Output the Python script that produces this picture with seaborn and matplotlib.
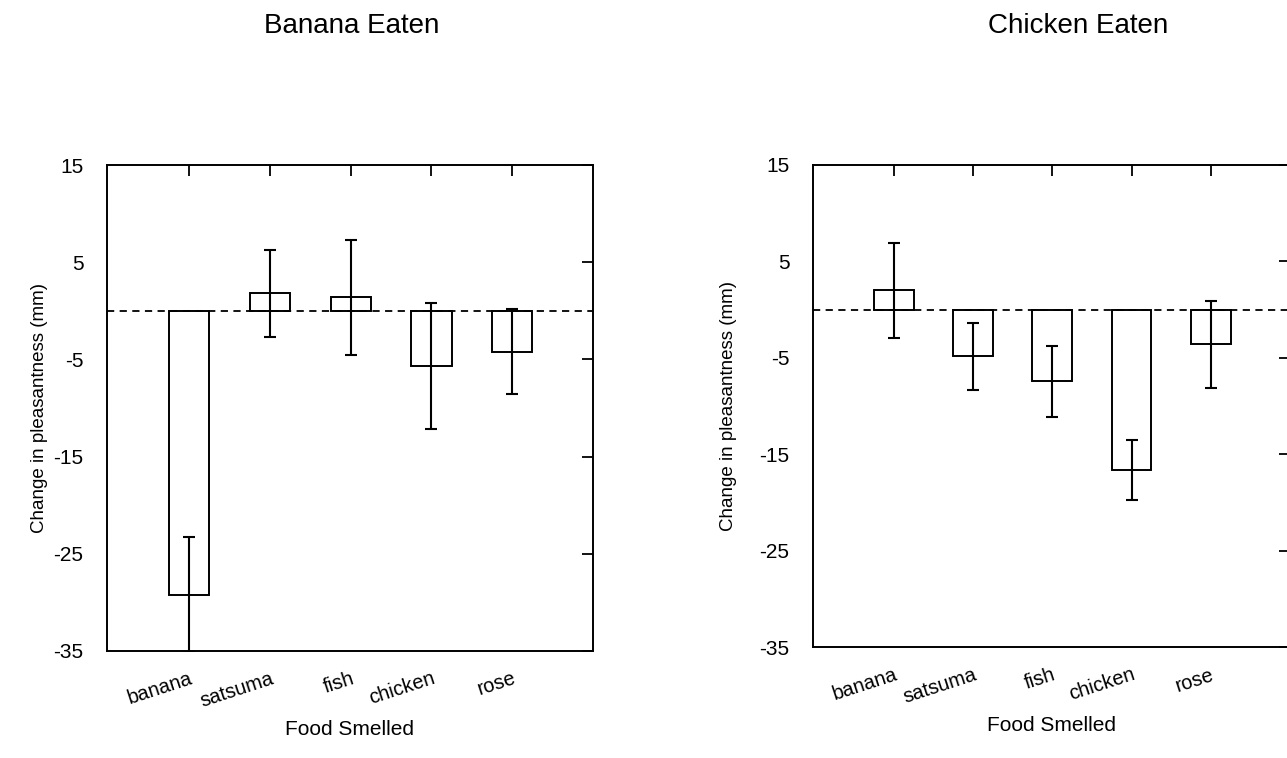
import numpy as np
import matplotlib
matplotlib.use("Agg")
import matplotlib.pyplot as plt
import seaborn as sns

# ==============
# DADOS
# ==============

foods = ["banana", "satsuma", "fish", "chicken", "rose"]

banana_eaten_mean = [-29.2, 1.8, 1.4, -5.7, -4.2]
banana_eaten_err = [5.9, 4.5, 5.9, 6.5, 4.4]

chicken_eaten_mean = [2.0, -4.85, -7.45, -16.6, -3.6]
chicken_eaten_err = [4.9, 3.45, 3.7, 3.1, 4.5]

titles = ["Banana Eaten", "Chicken Eaten"]
yticks = [15, 5, -5, -15, -25, -35]

# ==============
# FIGURA
# ==============

sns.set_theme(style="white")
plt.rcParams["font.family"] = ["Liberation Sans", "DejaVu Sans"]
plt.rcParams["text.color"] = "black"
plt.rcParams["axes.labelcolor"] = "black"
plt.rcParams["xtick.color"] = "black"
plt.rcParams["ytick.color"] = "black"
plt.rcParams["xtick.direction"] = "in"
plt.rcParams["ytick.direction"] = "in"

fig = plt.figure(figsize=(12.87, 7.58), dpi=100)
ax1 = fig.add_axes([0.0831, 0.1412, 0.3776, 0.641])
ax2 = fig.add_axes([0.6317, 0.1464, 0.3706, 0.636])

# (eixo, médias, erros, posição do rótulo y)
paineis = [
    (ax1, banana_eaten_mean, banana_eaten_err, -0.121),
    (ax2, chicken_eaten_mean, chicken_eaten_err, -0.159),
]

for ax, medias, erros, ylab_x in paineis:
    sns.barplot(x=foods, y=medias, fill=False, color="black", width=0.5,
                errorbar=None, linewidth=1.4, ax=ax)
    for patch in ax.patches:
        patch.set_edgecolor("black")
    ax.errorbar(x=np.arange(len(foods)), y=medias, yerr=erros, fmt="none",
                ecolor="black", elinewidth=1.5, capsize=4, capthick=1.5)
    ax.axhline(0, color="black", linestyle=(0, (4, 3)), linewidth=1.3)

    ax.set_xlim(-1.02, 5.0)
    ax.set_ylim(-35, 15)
    ax.set_yticks(yticks)
    ax.set_yticklabels([str(t) for t in yticks], fontsize=15)
    ax.set_xticks(np.arange(len(foods)))
    ax.set_xticklabels(foods, rotation=18, ha="right", rotation_mode="anchor",
                       fontsize=14.5)
    ax.tick_params(axis="both", which="both", length=8, width=1.3,
                   top=True, right=True)
    ax.tick_params(axis="x", pad=13)
    ax.tick_params(axis="y", pad=17)
    for spine in ax.spines.values():
        spine.set_color("black")
        spine.set_linewidth(1.4)
    ax.set_xlabel("Food Smelled", fontsize=15, labelpad=7)
    ax.set_ylabel("Change in pleasantness (mm)", fontsize=13.5)
    ax.yaxis.set_label_coords(ylab_x, 0.5)

fig.text(0.273, 1 - 33 / 758, titles[0], ha="center", va="baseline", fontsize=20)
fig.text(0.838, 1 - 33 / 758, titles[1], ha="center", va="baseline", fontsize=20)

fig.savefig("out.png", dpi=100, facecolor="white")
